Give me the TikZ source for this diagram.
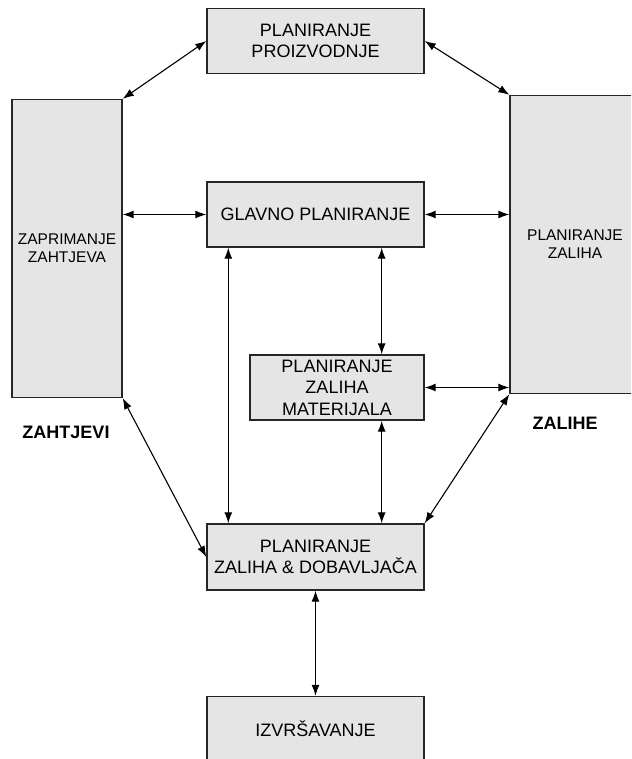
\documentclass[tikz,border=0pt]{standalone}
\usepackage{fontspec}
\setmainfont{Liberation Sans}
\usetikzlibrary{arrows.meta}
\begin{document}
\begin{tikzpicture}[x=1pt, y=-1pt]
	\tikzstyle{box}  = [rectangle, draw=black!85, line width=1.4pt, fill=gray!20, inner sep=0pt, align=center, minimum width=217pt, minimum height=65pt, font=\fontsize{18}{21.5}\selectfont]
	\tikzstyle{tall} = [box, minimum height=298pt, font=\fontsize{15.5}{18}\selectfont]
	\tikzstyle{outlabel} = [font=\bfseries\fontsize{18}{21}\selectfont]
	\tikzstyle{link} = [{Latex[length=11pt,width=8pt]}-{Latex[length=11pt,width=8pt]}, line width=1.1pt]

	\useasboundingbox (0,0) rectangle (631,759);
	\clip (0,0) rectangle (631,759);

	\node[box] (proiz) at (315.5,41) {PLANIRANJE\\PROIZVODNJE};
	\node[tall, minimum width=110pt] (zap) at (67,248.5) {ZAPRIMANJE\\ZAHTJEVA};
	\node[tall, minimum width=130pt] (zal) at (575,244.5) {PLANIRANJE\\ZALIHA};
	\node[box] (glavno) at (315.5,214.5) {GLAVNO PLANIRANJE};
	\node[box, minimum width=174pt] (mat) at (337,387.5) {PLANIRANJE\\ZALIHA\\MATERIJALA};
	\node[box, minimum height=66pt] (dob) at (315.5,557) {PLANIRANJE\\ZALIHA \& DOBAVLJAČA};
	\node[box] (izv) at (315.5,729) {IZVRŠAVANJE};

	\node[outlabel] (zahtjevi) at (66,432) {ZAHTJEVI};
	\node[outlabel] (zalihe) at (565,423) {ZALIHE};

	\foreach \from/\to in {proiz.west/zap.north east, proiz.east/zal.north west, zap.south east/dob.west, zal.south west/dob.north east, dob.south/izv.north}
		\path[link] (\from) edge (\to);

	\path[link] (glavno.west) edge (glavno.west -| zap.east);
	\path[link] (glavno.east) edge (glavno.east -| zal.west);
	\path[link] (mat.east) edge (mat.east -| zal.west);
	\path[link] ([xshift=22pt]glavno.south west) edge ([xshift=22pt]dob.north west);
	\path[link] ([xshift=-43pt]glavno.south east) edge ([xshift=-43pt]mat.north east);
	\path[link] ([xshift=-43pt]mat.south east) edge ([xshift=-43pt]dob.north east);
\end{tikzpicture}
\end{document}
